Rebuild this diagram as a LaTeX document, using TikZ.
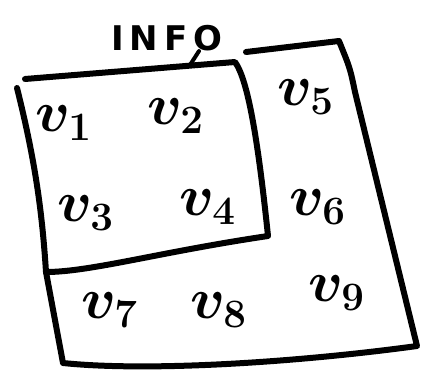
\documentclass[tikz,border=0pt]{standalone}
\usepackage{fontspec}
\usetikzlibrary{positioning,calc}
\newfontfamily\infofont{DejaVu Sans}[LetterSpace=18.0]
\newcommand{\vname}[1]{\scalebox{2.8}{\boldmath$v_{#1}$}}
\tikzset{
  stroke/.style={
    line width=6pt,
    line cap=round,
    line join=round,
  },
  vlabel/.style={
    font=\huge,
    inner sep=0pt,
  },
  infolabel/.style={
    font=\infofont\bfseries\fontsize{34}{34}\selectfont,
    inner sep=0pt,
  },
}

\begin{document}
\begin{tikzpicture}[x=1pt,y=-1pt]
\useasboundingbox (0,0) rectangle (425,390);

% === Corners ===
\coordinate (itl) at (25,79);
\coordinate (ilt) at (17,88);
\coordinate (itr) at (235,62);
\coordinate (ibr) at (268,236);
\coordinate (ibl) at (46,272);
\coordinate (obl) at (63,363);
\coordinate (obr) at (417,346);
\coordinate (okink) at (355,92);
\coordinate (otr) at (339,41);
\coordinate (otl) at (246,52);
\coordinate (tick) at (190,65);

% === INFO block ===
\draw[stroke] (itl) -- (itr)
  .. controls (248,80) and (258,140) .. (ibr)
  .. controls (160,252) and (90,272) .. (ibl);
\draw[stroke] (ilt) .. controls (35,160) and (42,210) .. (ibl);

% === Outer block ===
\draw[stroke] (ibl) -- (obl)
  .. controls (150,372) and (300,362) .. (obr)
  -- (okink) .. controls (350,68) .. (otr) -- (otl);

% === Labels ===
\node[vlabel] (v1) at (64,123) {\vname{1}};
\node[vlabel] (v2) at (176,116) {\vname{2}};
\node[vlabel] (v3) at (86,213) {\vname{3}};
\node[vlabel] (v4) at (208,207) {\vname{4}};
\node[vlabel] (v5) at (306,97) {\vname{5}};
\node[vlabel] (v6) at (318,207) {\vname{6}};
\node[vlabel] (v7) at (110,310) {\vname{7}};
\node[vlabel] (v8) at (219,310) {\vname{8}};
\node[vlabel] (v9) at (337,293) {\vname{9}};

% === INFO tag ===
\node[infolabel] (info) at (167,38) {INFO};
\draw[stroke, line width=4pt] ([xshift=-24pt]info.south east) -- (tick);

\end{tikzpicture}
\end{document}
